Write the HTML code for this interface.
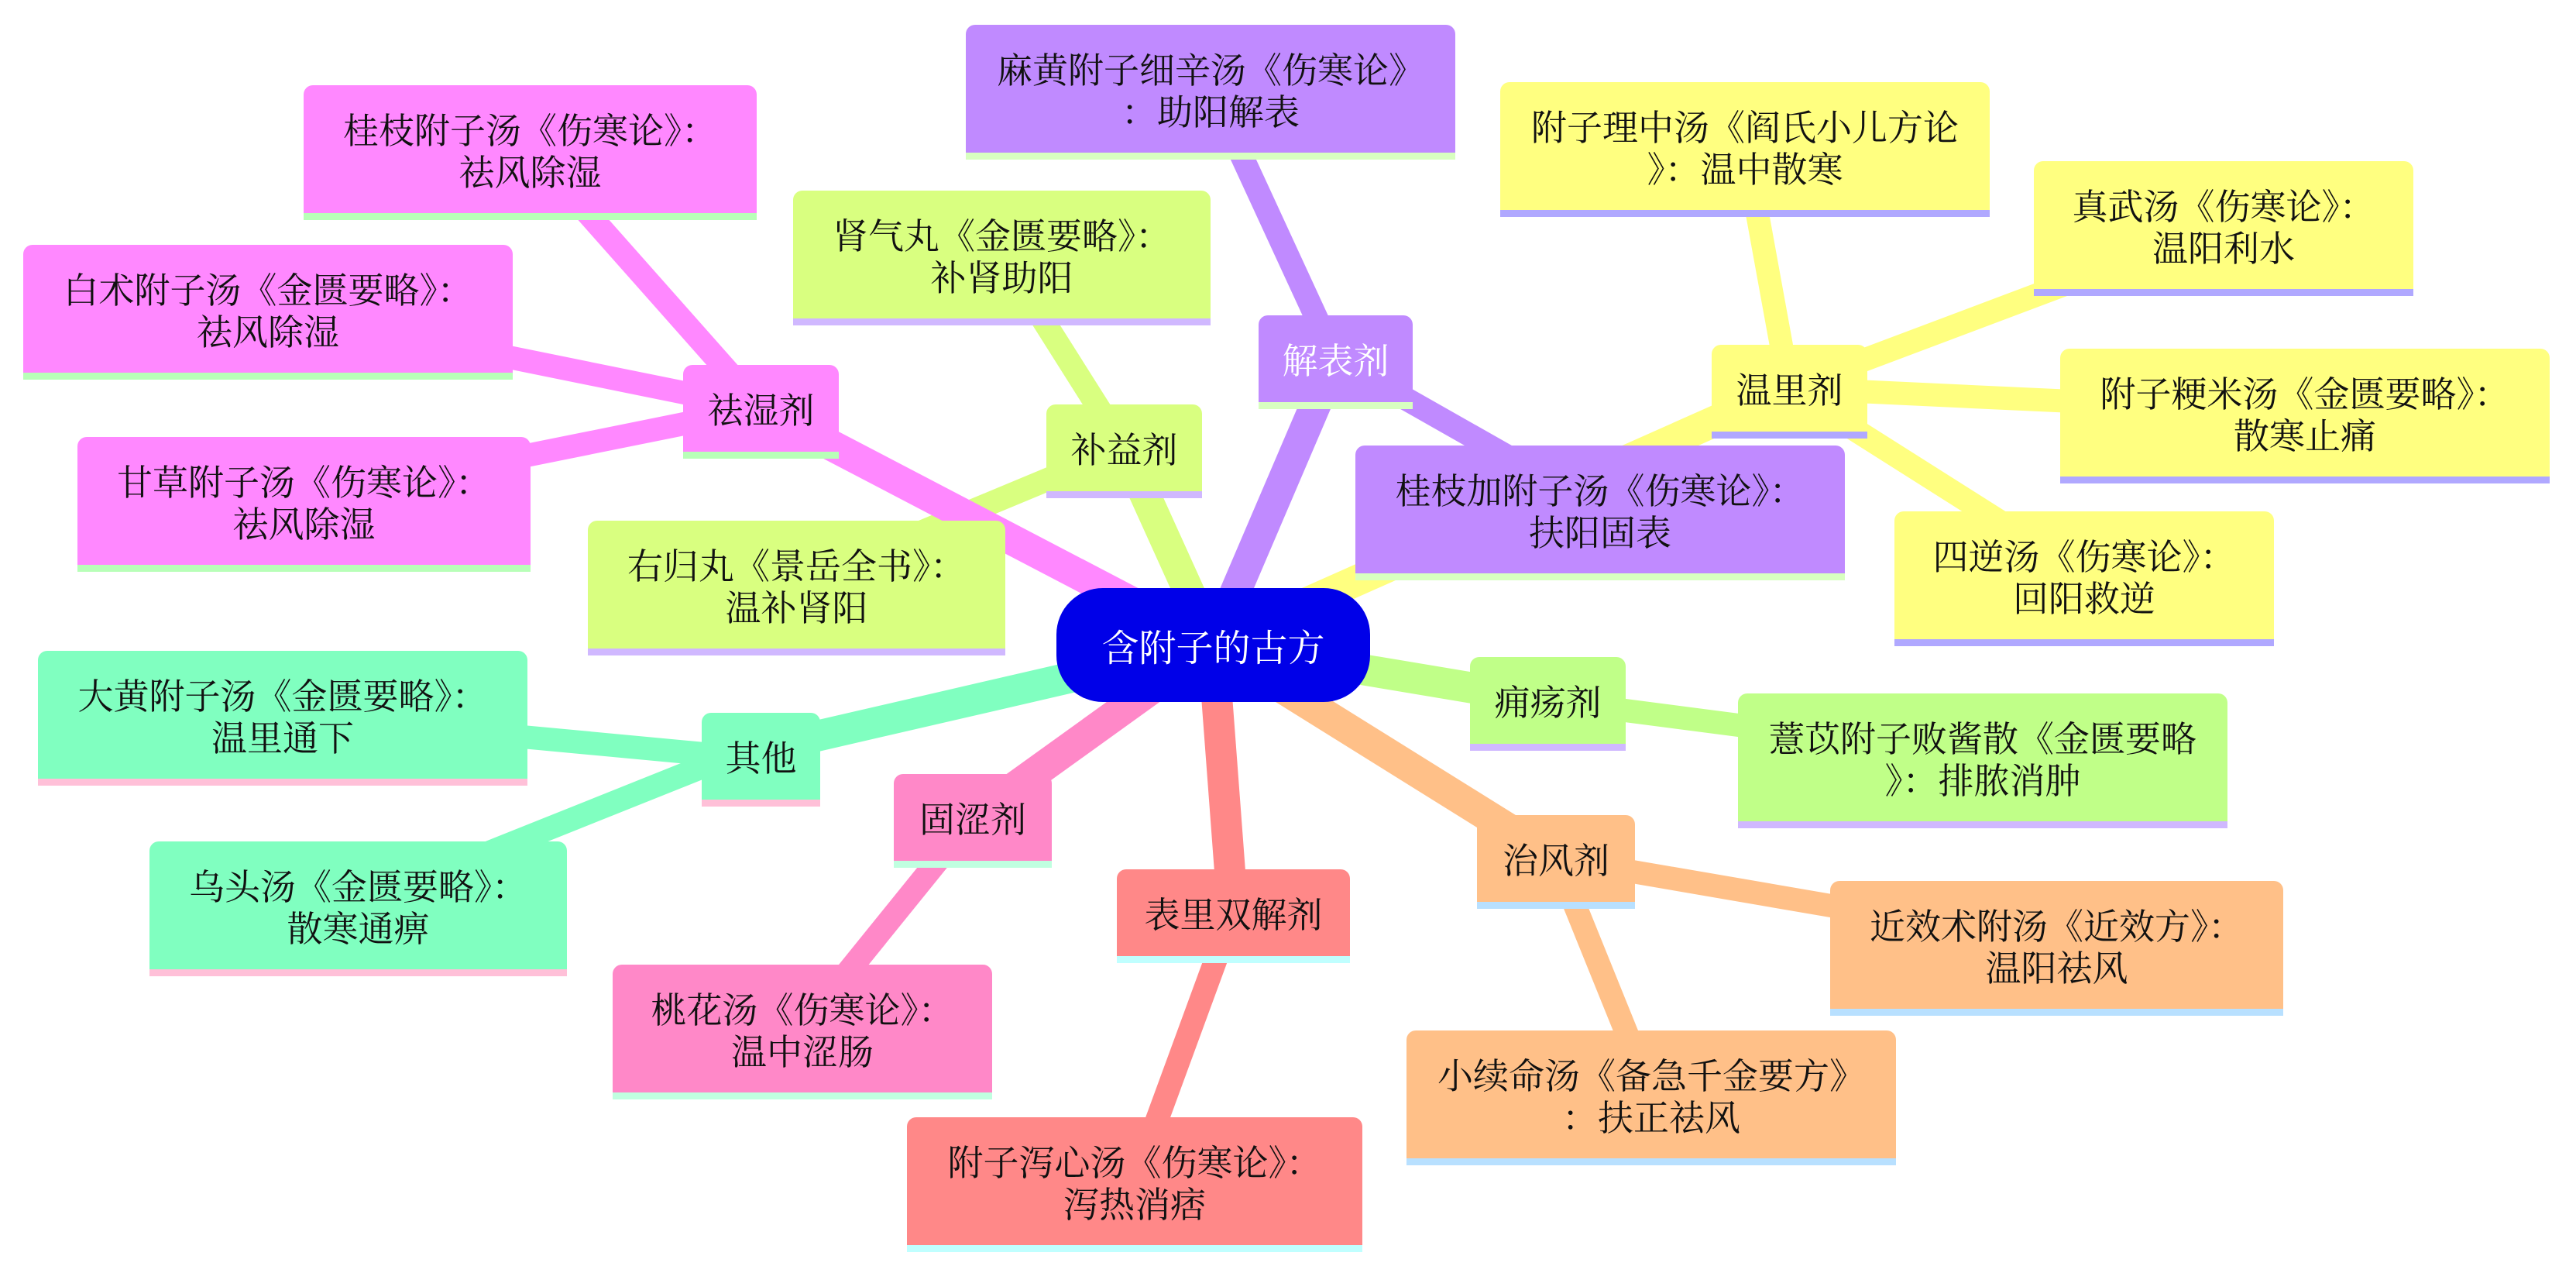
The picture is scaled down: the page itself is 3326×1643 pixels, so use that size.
<!DOCTYPE html>
<html><head><meta charset="utf-8">
<style>
html,body{margin:0;padding:0;background:#fff;}
body{width:3326px;height:1643px;position:relative;overflow:hidden;font-family:"Noto Serif CJK SC","Liberation Serif",serif;}
.b{position:absolute;display:flex;align-items:center;justify-content:center;text-align:center;font-size:46px;line-height:54px;color:#111;border-radius:12px 12px 0 0;box-sizing:border-box;white-space:nowrap;}
.b::after{content:"";position:absolute;left:0;right:0;bottom:-9px;height:9px;background:var(--u);}
.c{position:absolute;left:1364px;top:759px;width:405px;height:147px;background:#0000e8;border-radius:60px;color:#fff;font-size:48px;display:flex;align-items:center;justify-content:center;}
</style></head><body>
<svg width="3326" height="1643" style="position:absolute;left:0;top:0">
<g stroke-linecap="butt" fill="none">
<g stroke-width="30">
<line x1="982" y1="527" x2="685" y2="192" stroke="#ff88ff"/>
<line x1="982" y1="527" x2="346" y2="398" stroke="#ff88ff"/>
<line x1="982" y1="527" x2="392" y2="646" stroke="#ff88ff"/>
<line x1="1451" y1="578" x2="1293" y2="328" stroke="#d9ff80"/>
<line x1="1451" y1="578" x2="1028" y2="754" stroke="#d9ff80"/>
<line x1="1724" y1="463" x2="1563" y2="114" stroke="#c08aff"/>
<line x1="1724" y1="463" x2="2066" y2="657" stroke="#c08aff"/>
<line x1="2310" y1="501" x2="2253" y2="188" stroke="#ffff80"/>
<line x1="2310" y1="501" x2="2871" y2="290" stroke="#ffff80"/>
<line x1="2310" y1="501" x2="2976" y2="532" stroke="#ffff80"/>
<line x1="2310" y1="501" x2="2691" y2="742" stroke="#ffff80"/>
<line x1="942" y1="976" x2="365" y2="922" stroke="#80ffc0"/>
<line x1="942" y1="976" x2="462" y2="1168" stroke="#80ffc0"/>
<line x1="1256" y1="1055" x2="1036" y2="1327" stroke="#ff88c8"/>
<line x1="1592" y1="1178" x2="1465" y2="1524" stroke="#ff8888"/>
<line x1="1998" y1="904" x2="2560" y2="977" stroke="#c0ff88"/>
<line x1="2009" y1="1108" x2="2655" y2="1219" stroke="#ffc088"/>
<line x1="2009" y1="1108" x2="2132" y2="1412" stroke="#ffc088"/>
</g>
<g stroke-width="40">
<line x1="1566" y1="832" x2="982" y2="527" stroke="#ff88ff"/>
<line x1="1566" y1="832" x2="1451" y2="578" stroke="#d9ff80"/>
<line x1="1566" y1="832" x2="1724" y2="463" stroke="#c08aff"/>
<line x1="1566" y1="832" x2="2310" y2="501" stroke="#ffff80"/>
<line x1="1566" y1="832" x2="942" y2="976" stroke="#80ffc0"/>
<line x1="1566" y1="832" x2="1256" y2="1055" stroke="#ff88c8"/>
<line x1="1566" y1="832" x2="1592" y2="1178" stroke="#ff8888"/>
<line x1="1566" y1="832" x2="1998" y2="904" stroke="#c0ff88"/>
<line x1="1566" y1="832" x2="2009" y2="1108" stroke="#ffc088"/>
</g>
</g>
</svg>

<div class="b" style="left:1247px;top:32px;width:632px;height:165px;background:#c08aff;--u:#d8ffc0">麻黄附子细辛汤《伤寒论》<br>：助阳解表</div>
<div class="b" style="left:1625px;top:407px;width:199px;height:112px;background:#c08aff;--u:#d8ffc0;color:#fff">解表剂</div>
<div class="b" style="left:1750px;top:575px;width:632px;height:165px;background:#c08aff;--u:#d8ffc0">桂枝加附子汤《伤寒论》：<br>扶阳固表</div>
<div class="b" style="left:1937px;top:106px;width:632px;height:165px;background:#ffff80;--u:#b0a8ff">附子理中汤《阎氏小儿方论<br>》：温中散寒</div>
<div class="b" style="left:2626px;top:208px;width:490px;height:165px;background:#ffff80;--u:#b0a8ff">真武汤《伤寒论》：<br>温阳利水</div>
<div class="b" style="left:2210px;top:445px;width:201px;height:112px;background:#ffff80;--u:#b0a8ff">温里剂</div>
<div class="b" style="left:2660px;top:450px;width:632px;height:165px;background:#ffff80;--u:#b0a8ff">附子粳米汤《金匮要略》：<br>散寒止痛</div>
<div class="b" style="left:2446px;top:660px;width:490px;height:165px;background:#ffff80;--u:#b0a8ff">四逆汤《伤寒论》：<br>回阳救逆</div>
<div class="b" style="left:1024px;top:246px;width:539px;height:165px;background:#d9ff80;--u:#d0b8ff">肾气丸《金匮要略》：<br>补肾助阳</div>
<div class="b" style="left:1351px;top:522px;width:201px;height:112px;background:#d9ff80;--u:#d0b8ff">补益剂</div>
<div class="b" style="left:759px;top:672px;width:539px;height:165px;background:#d9ff80;--u:#d0b8ff">右归丸《景岳全书》：<br>温补肾阳</div>
<div class="b" style="left:392px;top:110px;width:585px;height:165px;background:#ff88ff;--u:#b8ffb8">桂枝附子汤《伤寒论》：<br>祛风除湿</div>
<div class="b" style="left:30px;top:316px;width:632px;height:165px;background:#ff88ff;--u:#b8ffb8">白术附子汤《金匮要略》：<br>祛风除湿</div>
<div class="b" style="left:882px;top:471px;width:201px;height:112px;background:#ff88ff;--u:#b8ffb8">祛湿剂</div>
<div class="b" style="left:100px;top:564px;width:585px;height:165px;background:#ff88ff;--u:#b8ffb8">甘草附子汤《伤寒论》：<br>祛风除湿</div>
<div class="b" style="left:49px;top:840px;width:632px;height:165px;background:#80ffc0;--u:#ffc0d8">大黄附子汤《金匮要略》：<br>温里通下</div>
<div class="b" style="left:906px;top:920px;width:153px;height:112px;background:#80ffc0;--u:#ffc0d8">其他</div>
<div class="b" style="left:193px;top:1086px;width:539px;height:165px;background:#80ffc0;--u:#ffc0d8">乌头汤《金匮要略》：<br>散寒通痹</div>
<div class="b" style="left:1154px;top:999px;width:204px;height:112px;background:#ff88c8;--u:#c0ffe0">固涩剂</div>
<div class="b" style="left:791px;top:1245px;width:490px;height:165px;background:#ff88c8;--u:#c0ffe0">桃花汤《伤寒论》：<br>温中涩肠</div>
<div class="b" style="left:1442px;top:1122px;width:301px;height:112px;background:#ff8888;--u:#c0ffff">表里双解剂</div>
<div class="b" style="left:1171px;top:1442px;width:588px;height:165px;background:#ff8888;--u:#c0ffff">附子泻心汤《伤寒论》：<br>泻热消痞</div>
<div class="b" style="left:1898px;top:848px;width:201px;height:112px;background:#c0ff88;--u:#d0b8ff">痈疡剂</div>
<div class="b" style="left:2244px;top:895px;width:632px;height:165px;background:#c0ff88;--u:#d0b8ff">薏苡附子败酱散《金匮要略<br>》：排脓消肿</div>
<div class="b" style="left:1907px;top:1052px;width:204px;height:112px;background:#ffc088;--u:#b8e0ff">治风剂</div>
<div class="b" style="left:2363px;top:1137px;width:585px;height:165px;background:#ffc088;--u:#b8e0ff">近效术附汤《近效方》：<br>温阳祛风</div>
<div class="b" style="left:1816px;top:1330px;width:632px;height:165px;background:#ffc088;--u:#b8e0ff">小续命汤《备急千金要方》<br>：扶正祛风</div>

<div class="c">含附子的古方</div>
</body></html>
